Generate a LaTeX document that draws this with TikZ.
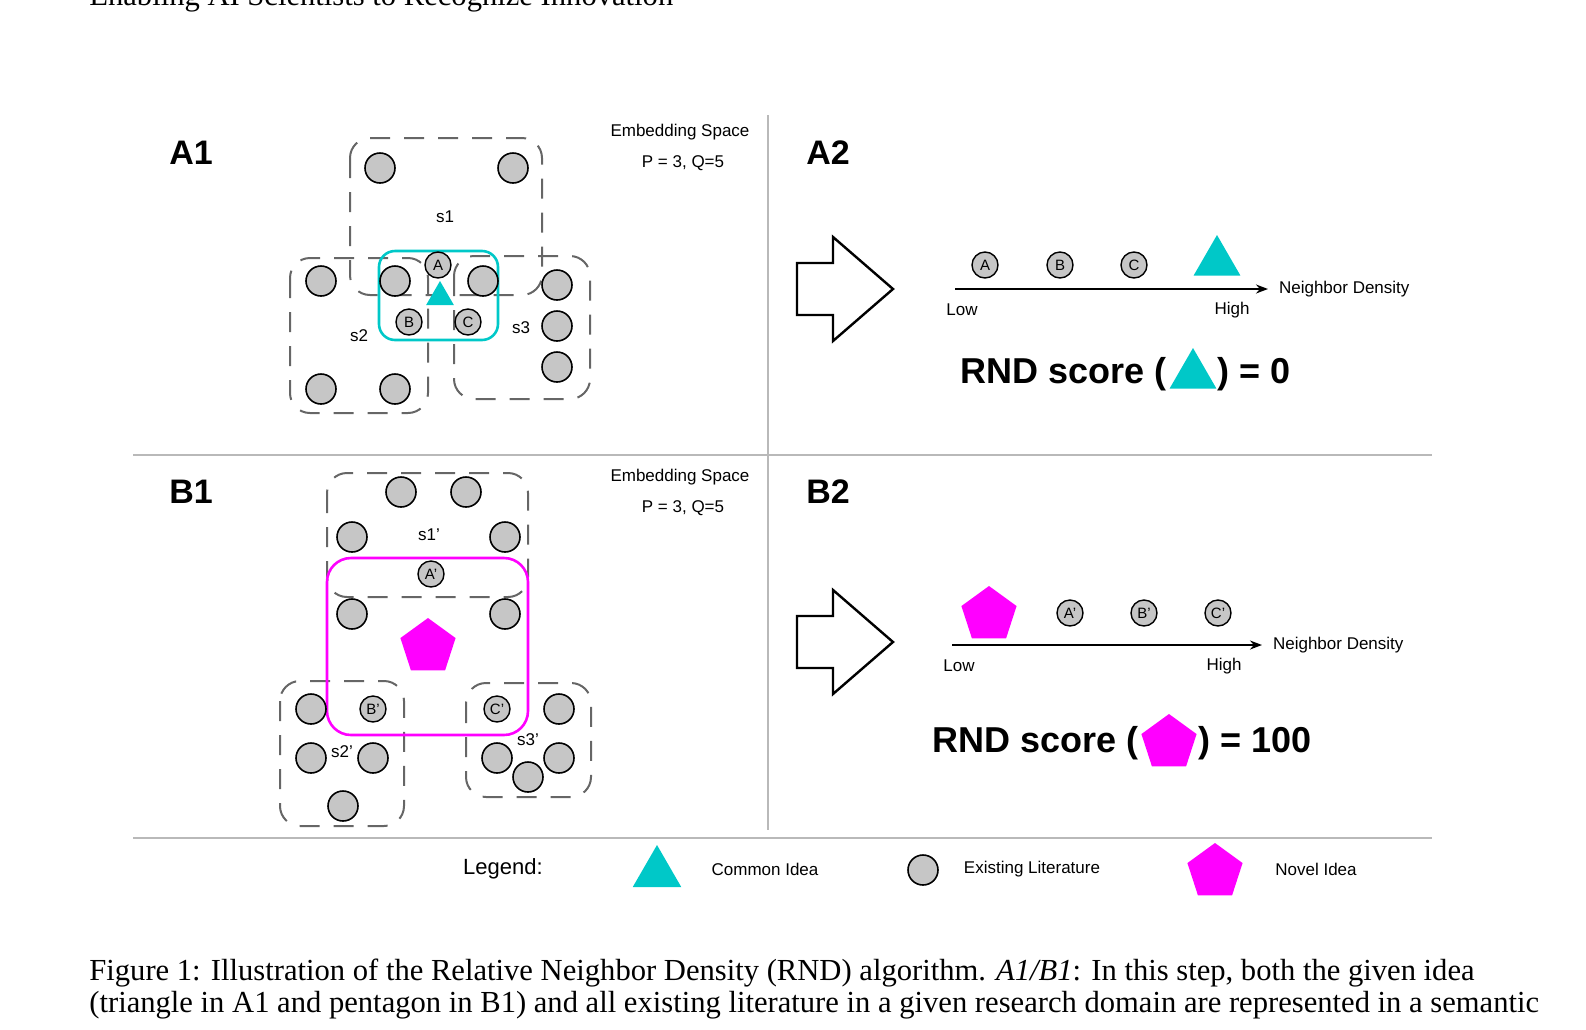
\documentclass[tikz,border=0pt]{standalone}
\usepackage{fontspec}
\setmainfont{Liberation Sans}
\newfontfamily\capfont{Liberation Serif}
\usetikzlibrary{shapes.geometric,arrows.meta,positioning}
\definecolor{commoncol}{RGB}{0,200,200}
\definecolor{novelcol}{RGB}{255,0,255}

\begin{document}
\begin{tikzpicture}[x=0.5pt,y=-0.5pt,
	lit/.style={circle, draw=black, fill=gray!45, line width=0.8pt, minimum size=15pt, inner sep=0},
	tag/.style={circle, draw=black, fill=gray!45, line width=0.7pt, minimum size=13pt, inner sep=0, font=\fontsize{7.5pt}{8pt}\selectfont},
	group/.style={draw=gray!80!black, line width=1pt, dash pattern=on 10pt off 7pt, rounded corners=10pt},
	tri/.style={regular polygon, regular polygon sides=3, fill=commoncol, inner sep=0, minimum size=#1},
	pent/.style={regular polygon, regular polygon sides=5, fill=novelcol, inner sep=0, minimum size=#1},
	small/.style={font=\fontsize{8.5pt}{10pt}\selectfont},
	panel/.style={font=\fontsize{17pt}{18pt}\bfseries\selectfont},
	score/.style={font=\fontsize{18pt}{20pt}\bfseries\selectfont, inner sep=0},
	capt/.style={anchor=base west, inner sep=0, font=\capfont\fontsize{15.3pt}{16pt}\selectfont},
	sep/.style={draw=gray!55, line width=1.2pt}]
	\useasboundingbox (0,0) rectangle (1586,1029);
	\def\bigarrow#1{\draw[line width=1.2pt] (797,#1-26) -- (833,#1-26) -- (833,#1-52) -- (893,#1) -- (833,#1+52) -- (833,#1+26) -- (797,#1+26) -- cycle;}
	% header and caption
	\node[capt] (hdr) at (89,5) {Enabling AI Scientists to Recognize Innovation};
	\node[capt] (cap1) at (89,980) {Figure 1: Illustration of the Relative Neighbor Density (RND) algorithm. \textit{A1/B1}: In this step, both the given idea};
	\node[capt] (cap2) at (89,1012) {(triangle in A1 and pentagon in B1) and all existing literature in a given research domain are represented in a semantic};
	% separators
	\draw[sep] (768,115) -- (768,830);
	\draw[sep] (133,455) -- (1432,455);
	\draw[sep] (133,838) -- (1432,838);
	\node[panel] (A1) at (191,153) {A1};
	\node[panel] (A2) at (828,153) {A2};
	\node[panel] (B1) at (191,492) {B1};
	\node[panel] (B2) at (828,492) {B2};
	\node[small] (esA) at (680,132) {Embedding Space};
	\node[small] (pqA) at (683,163) {P = 3, Q=5};
	\node[small] (esB) at (680,477) {Embedding Space};
	\node[small] (pqB) at (683,508) {P = 3, Q=5};

	% A1
	\draw[group] (350,138) rectangle (542,295);
	\draw[group] (290,258) rectangle (428,413);
	\draw[group] (454,256) rectangle (590,399);
	\draw[commoncol, line width=1.3pt, rounded corners=8pt] (379,251) rectangle (498,340);
	\foreach \x/\y [count=\i] in {380/168,513/168,321/281,395/281,483/281,557/285,557/326,557/367,321/389,395/389}
		\node[lit] (la\i) at (\x,\y) {};
	\node[tag] (tA) at (438,265) {A};
	\node[tag] (tB) at (409,322) {B};
	\node[tag] (tC) at (468,322) {C};
	\node[tri=16pt] (ideaA) at (440,297) {};
	\node[small] (s1) at (445,217) {s1};
	\node[small] (s2) at (359,336) {s2};
	\node[small] (s3) at (521,328) {s3};

	% A2
	\bigarrow{289}
	\coordinate (axA0) at (955,289);
	\coordinate (axA1) at (1268,289);
	\draw[-{Stealth[length=6pt]}, line width=0.8pt] (axA0) -- (axA1);
	\node[small, right=2pt of axA1] (ndA) {Neighbor Density};
	\node[small] (lowA) at (962,310) {Low};
	\node[small] (highA) at (1232,310) {High};
	\node[tag] (rA) at (985,265) {A};
	\node[tag] (rB) at (1060,265) {B};
	\node[tag] (rC) at (1134,265) {C};
	\node[tri=27pt] (rT) at (1217,262) {};
	\node[score, anchor=base east] (scA) at (1167,383) {RND score (};
	\node[tri=27pt] (scAT) at (1193,375) {};
	\node[score, anchor=base west] (scA') at (1217,383) {) = 0};

	% B1
	\draw[group] (327,473) rectangle (528,597);
	\draw[group] (280,681) rectangle (404,826);
	\draw[group] (466,683) rectangle (591,797);
	\draw[novelcol, line width=1.3pt, rounded corners=12pt] (327,558) rectangle (528,735);
	\foreach \x/\y [count=\i] in {401/492,466/492,352/537,505/537,352/614,505/614,311/709,559/709,311/758,373/758,497/758,559/758,528/777,343/806}
		\node[lit] (lb\i) at (\x,\y) {};
	\node[tag] (tA') at (431,574) {A'};
	\node[tag] (tB') at (373,709) {B'};
	\node[tag] (tC') at (497,709) {C'};
	\node[pent=29pt] (ideaB) at (428,647) {};
	\node[small] (s1') at (429,535) {s1'};
	\node[small] (s2') at (342,752) {s2'};
	\node[small] (s3') at (528,740) {s3'};

	% B2
	\bigarrow{642}
	\coordinate (axB0) at (952,645);
	\coordinate (axB1) at (1262,645);
	\draw[-{Stealth[length=6pt]}, line width=0.8pt] (axB0) -- (axB1);
	\node[small, right=2pt of axB1] (ndB) {Neighbor Density};
	\node[small] (lowB) at (959,666) {Low};
	\node[small] (highB) at (1224,666) {High};
	\node[pent=29pt] (rP) at (989,615) {};
	\node[tag] (rA') at (1070,613) {A'};
	\node[tag] (rB') at (1144,613) {B'};
	\node[tag] (rC') at (1218,613) {C'};
	\node[score, anchor=base east] (scB) at (1139,752) {RND score (};
	\node[pent=29pt] (scBP) at (1169,743) {};
	\node[score, anchor=base west] (scB') at (1198,752) {) = 100};

	% legend
	\node[font=\fontsize{11pt}{12pt}\selectfont] (lg) at (503,869) {Legend:};
	\node[tri=28pt] (lgT) at (657,873) {};
	\node[small] (lgT') at (765,869) {Common Idea};
	\node[lit] (lgC) at (923,870) {};
	\node[small] (lgC') at (1032,869) {Existing Literature};
	\node[pent=29pt] (lgP) at (1215,872) {};
	\node[small] (lgP') at (1316,869) {Novel Idea};
\end{tikzpicture}
\end{document}
